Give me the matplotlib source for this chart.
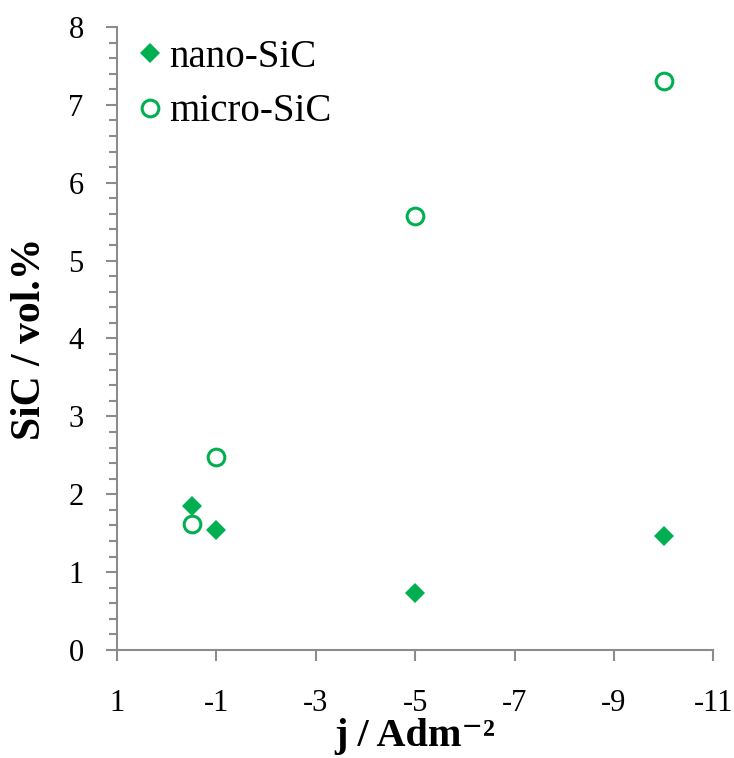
import matplotlib.pyplot as plt
from matplotlib.ticker import MultipleLocator

plt.rcParams['font.family'] = ['Liberation Serif', 'DejaVu Serif']

# current density (A/dm2) and SiC content (vol.%)
j_nano = [-0.5, -1, -5, -10]
sic_nano = [1.85, 1.54, 0.73, 1.46]
j_micro = [-0.5, -1, -5, -10]
sic_micro = [1.62, 2.48, 5.57, 7.30]

x_ticks = [1, -1, -3, -5, -7, -9, -11]
y_ticks = [0, 1, 2, 3, 4, 5, 6, 7, 8]

green = '#00B050'
grey = '#8c8c8c'

fig = plt.figure(figsize=(7.34, 7.58), dpi=100)
ax = fig.add_axes([0.1594, 0.1425, 0.8125, 0.8219])

ax.plot(j_nano, sic_nano, linestyle='none', marker='D', markersize=10,
        color=green, markeredgewidth=0, label='nano-SiC')
ax.plot(j_micro, sic_micro, linestyle='none', marker='o', markersize=12,
        markerfacecolor='white', markeredgecolor=green, markeredgewidth=2.2,
        label='micro-SiC')

ax.set_xlim(1, -11)
ax.set_ylim(0, 8)
ax.set_xticks(x_ticks, [str(t) for t in x_ticks])
ax.set_yticks(y_ticks, [str(t) for t in y_ticks])
ax.yaxis.set_minor_locator(MultipleLocator(0.2))

for s in ['top', 'right']:
    ax.spines[s].set_visible(False)
for s in ['left', 'bottom']:
    ax.spines[s].set_color(grey)
    ax.spines[s].set_linewidth(1.5)

ax.tick_params(axis='both', which='both', direction='out', color=grey, width=1.5)
ax.tick_params(axis='x', which='major', length=8, pad=20, labelsize=22)
ax.tick_params(axis='y', which='major', length=8, pad=16, labelsize=22)
ax.tick_params(axis='y', which='minor', length=6)

ax.set_xlabel('j / Adm⁻²', fontsize=29, fontweight='bold', labelpad=0)
ax.set_ylabel('SiC / vol.%', fontsize=30, fontweight='bold', labelpad=14)

ax.legend(loc='upper left', frameon=False, fontsize=28, handletextpad=0.05,
          handlelength=0.9, borderaxespad=0.0, labelspacing=0.45,
          bbox_to_anchor=(0.0, 1.006))

fig.savefig('out.png', dpi=100)
